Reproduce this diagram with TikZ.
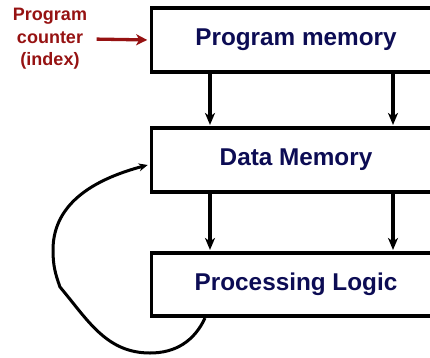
\documentclass[tikz,border=0pt]{standalone}
\usepackage{fontspec}
\setmainfont{Liberation Sans}
\usetikzlibrary{arrows.meta}
\definecolor{navytext}{RGB}{12,12,84}
\definecolor{redtext}{RGB}{150,18,18}
\begin{document}
\begin{tikzpicture}[x=1pt,y=1pt,
  blockbox/.style={draw=black, line width=3.6pt, minimum width=289pt, inner sep=0pt,
    font=\fontsize{24.3}{28}\selectfont\bfseries, text=navytext},
  flow/.style={line width=3.3pt, -{Stealth[length=12pt,width=10pt,inset=3.5pt]}},
  feedback/.style={line width=3pt, -{Stealth[length=9pt,width=8pt,inset=3pt]}},
  pclabel/.style={align=center, font=\fontsize{18}{22.5}\selectfont\bfseries, text=redtext},
  pcarrow/.style={draw=redtext, line width=3.3pt, -{Stealth[length=11pt,width=11pt,inset=3pt]}}]
\useasboundingbox (0,0) rectangle (430,357);
\node[blockbox, minimum height=64.5pt] (pm) at (296,317) {Program memory};
\node[blockbox, minimum height=64.5pt] (dm) at (296,197) {Data Memory};
\node[blockbox, minimum height=63.5pt] (pl) at (296,72.5) {Processing Logic};
\node[pclabel] (pc) at (50,318) {Program\\counter\\(index)};
\draw[pcarrow, shorten <=6pt, shorten >=2.5pt] (pc.east) -- (pm.west);
\draw[flow, shorten >=1pt] ([xshift=-86pt]pm.south) -- ([xshift=-86pt]dm.north);
\draw[flow, shorten >=1pt] ([xshift=97pt]pm.south) -- ([xshift=97pt]dm.north);
\draw[flow, shorten >=1pt] ([xshift=-86pt]dm.south) -- ([xshift=-86pt]pl.north);
\draw[flow, shorten >=1pt] ([xshift=97pt]dm.south) -- ([xshift=97pt]pl.north);
\coordinate (lbottom) at (150,4);
\coordinate (lknee) at (60,70);
\coordinate (lleft) at (53,107);
\coordinate (lend) at ([yshift=-5pt, xshift=-2pt]dm.west);
\draw[feedback] ([xshift=-91pt]pl.south) to[out=245,in=0] (lbottom)
  to[out=180,in=-50] (lknee) to[out=110,in=-90] (lleft) to[out=90,in=195] (lend);
\end{tikzpicture}
\end{document}
